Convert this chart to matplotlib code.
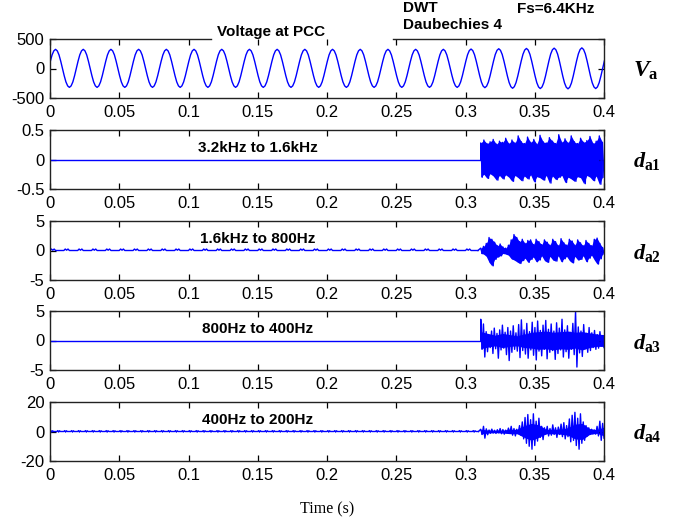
import numpy as np
import matplotlib
matplotlib.use('Agg')
import matplotlib.pyplot as plt

plt.rcParams['font.family'] = ['Liberation Sans', 'DejaVu Sans']
plt.rcParams['axes.unicode_minus'] = False
plt.rcParams['mathtext.fontset'] = 'custom'
plt.rcParams['mathtext.it'] = 'Liberation Serif:italic:bold'
plt.rcParams['mathtext.rm'] = 'Liberation Serif:bold'
plt.rcParams['mathtext.bf'] = 'Liberation Serif:bold'

## ---- data ----
# voltage at PCC: one normalised cycle, and peak values per cycle (+ / -)
va_cycle = [0, 0.38, 0.71, 0.92, 1.0, 0.92, 0.71, 0.38,
            0, -0.38, -0.71, -0.92, -1.0, -0.92, -0.71, -0.38]
va_pos_peak = [325, 325, 325, 325, 325, 325, 325, 325, 325, 325,
               325, 325, 325, 325, 325, 330, 335, 340, 345, 350, 330]
va_neg_peak = [320, 320, 320, 320, 320, 320, 320, 320, 320, 320,
               320, 320, 320, 320, 320, 325, 335, 340, 345, 340, 320]
va_t0 = -0.001       # first rising zero crossing
va_period = 0.02     # 50 Hz

event_t = 0.311

# detail da1 (3.2kHz-1.6kHz), burst after the event, alternating extremes
da1_burst = [0.28, -0.30, 0.33, -0.25, 0.27, -0.32, 0.30, -0.24, 0.34, -0.28,
             0.26, -0.35, 0.31, -0.27, 0.29, -0.33, 0.36, -0.26, 0.27, -0.30,
             0.33, -0.37, 0.28, -0.27, 0.40, -0.31, 0.30, -0.36, 0.27, -0.28,
             0.38, -0.33, 0.29, -0.26, 0.34, -0.38, 0.26, -0.29, 0.41, -0.31,
             0.30, -0.35, 0.28, -0.27, 0.37, -0.40, 0.31, -0.28, 0.27, -0.34,
             0.42, -0.30, 0.29, -0.27, 0.35, -0.39, 0.28, -0.30, 0.40, -0.33,
             0.30, -0.37, 0.27, -0.29, 0.36, -0.31, 0.29, -0.41, 0.32, -0.27,
             0.39, -0.30, 0.27, -0.36, 0.31, -0.28, 0.40, -0.42, 0.29, -0.30]

# detail da2 (1.6kHz-800Hz)
da2_ripple = [0, 0.25, 0.05, 0.25, 0, 0, 0, 0, 0, 0]   # small bump every 10 ms
da2_burst = [0.4, -0.5, 0.7, -0.6, 1.2, -1.0, 2.2, -2.0, 1.9, -2.6,
             1.4, -1.5, 0.8, -1.1, 1.1, -0.9, 0.6, -0.5, 0.4, -0.6,
             0.9, -0.8, 1.8, -1.4, 2.7, -1.6, 2.2, -1.9, 1.5, -2.2,
             1.9, -1.7, 1.2, -1.3, 1.7, -2.0, 1.8, -1.5, 1.0, -1.1,
             1.9, -1.9, 1.5, -1.6, 1.0, -0.9, 1.8, -1.7, 1.4, -2.0,
             0.9, -1.0, 1.9, -1.6, 1.5, -1.8, 0.8, -0.9, 2.0, -1.9,
             1.3, -1.4, 0.9, -1.0, 1.9, -1.7, 1.6, -2.1, 0.9, -1.0,
             1.8, -1.6, 1.3, -1.5, 0.8, -0.9, 1.7, -1.9, 1.2, -1.3,
             0.8, -0.8, 1.9, -1.6, 2.1, -2.3, 1.2, -1.4, 0.5, -0.6]

# detail da3 (800Hz-400Hz): spikes, plus the solid core band
da3_burst = [3.6, -1.5, 2.8, -2.8, 1.5, -1.9, 0.9, -1.2, 1.6, -2.2,
             2.1, -1.4, 1.2, -3.0, 1.8, -1.6, 2.6, -1.3, 1.4, -2.4,
             2.2, -3.4, 1.6, -2.0, 2.5, -1.5, 1.3, -1.8, 2.7, -2.9,
             3.5, -1.7, 1.8, -2.3, 2.9, -3.0, 1.5, -1.6, 3.1, -2.5,
             2.2, -3.3, 3.3, -1.8, 1.7, -2.6, 2.6, -1.5, 3.4, -3.1,
             1.9, -2.0, 2.8, -1.7, 1.6, -3.2, 3.0, -2.2, 2.1, -1.6,
             3.6, -2.8, 1.8, -1.9, 2.5, -3.0, 1.4, -1.5, 2.9, -2.4,
             5.0, -4.5, 2.3, -2.1, 1.6, -2.7, 2.7, -1.4, 1.2, -2.0,
             2.2, -1.7, 1.3, -1.2, 1.7, -1.5, 1.0, -1.3, 1.5, -0.9,
             0.8, -1.2]
da3_core_up = [1.5, 1.2, 0.9, 1.2, 1.0, 0.8, 1.1, 1.4, 1.5, 1.6, 1.4, 1.5,
               1.6, 1.4, 1.5, 1.3, 1.1, 1.0]
da3_core_lo = [-1.4, -1.1, -0.9, -1.2, -1.0, -0.9, -1.2, -1.3, -1.5, -1.4, -1.6, -1.4,
               -1.5, -1.3, -1.6, -1.2, -1.0, -1.0]

# detail da4 (400Hz-200Hz)
da4_ripple = [0, 0.6, -0.4, 0.5, 0, 0, 0, 0]           # small wiggle every 5 ms
da4_burst = [1.5, -2.0, 3.5, -4.5, 1.8, -2.2, 1.0, -1.2, 1.6, -1.0,
             0.8, -1.3, 1.2, -0.9, 2.0, -1.5, 1.3, -1.8, 0.9, -1.0,
             2.3, -1.2, 3.5, -2.5, 2.0, -3.0, 1.5, -1.5, 4.0, -2.5,
             6.5, -5.0, 9.5, -8.0, 11.5, -10.0, 8.0, -12.0, 12.0, -9.5,
             7.0, -6.5, 9.0, -4.0, 3.5, -5.5, 2.5, -2.0, 3.5, -3.0,
             2.0, -2.5, 4.5, -2.0, 2.5, -4.0, 3.0, -2.0, 5.0, -3.5,
             6.0, -5.0, 4.0, -3.5, 8.5, -7.0, 11.0, -6.0, 13.0, -9.5,
             9.0, -12.0, 12.0, -8.0, 6.5, -6.0, 4.0, -3.0, 2.5, -2.0,
             1.5, -1.5, 1.0, -1.8, 3.5, -3.0, 7.0, -6.0, 5.5, -4.5]
da4_core_up = [1.5, 1.0, 0.8, 0.9, 1.5, 1.5, 4.0, 5.5, 4.5, 1.5, 1.5, 1.5,
               2.5, 5.0, 5.5, 2.0, 1.2, 3.0]
da4_core_lo = [-1.8, -1.0, -0.8, -1.0, -1.5, -1.5, -4.0, -6.0, -4.0, -1.5, -1.5, -1.8,
               -2.5, -5.0, -5.5, -2.0, -1.2, -3.0]

ylims = [500, 0.5, 5, 5, 20]
yticklabels = [['-500', '0', '500'], ['-0.5', '0', '0.5'], ['-5', '0', '5'],
               ['-5', '0', '5'], ['-20', '0', '20']]
xticks = [0, 0.05, 0.1, 0.15, 0.2, 0.25, 0.3, 0.35, 0.4]
xticklabels = ['0', '0.05', '0.1', '0.15', '0.2', '0.25', '0.3', '0.35', '0.4']
band_labels = ['', '3.2kHz to 1.6kHz', '1.6kHz to 800Hz', '800Hz to 400Hz', '400Hz to 200Hz']
side_labels = [r'$V_{\mathrm{a}}$', r'$d_{\mathrm{a1}}$', r'$d_{\mathrm{a2}}$',
               r'$d_{\mathrm{a3}}$', r'$d_{\mathrm{a4}}$']

BLUE = '#0000ff'

## ---- build the voltage trace ----
ncyc = len(va_pos_peak)
va_t = va_t0 + np.arange(ncyc * len(va_cycle)) * va_period / len(va_cycle)
va_y = []
for c in range(ncyc):
    for v in va_cycle:
        va_y.append(v * (va_pos_peak[c] if v > 0 else va_neg_peak[c]))
va_y = np.array(va_y)


def draw_detail(ax, burst, ripple=None, step=0.01, core=None):
    """ flat/rippled trace up to the event, then the burst
    core=None fills the whole envelope, else fills the given core band """
    if ripple is None:
        t_pre = np.array([0, event_t])
        y_pre = np.zeros(2)
    else:
        n = int(round(event_t / step))
        t_pre = np.concatenate([k * step + np.arange(len(ripple)) * step / len(ripple)
                                for k in range(n)])
        y_pre = np.tile(ripple, n)
    ax.plot(t_pre, y_pre, color=BLUE, lw=1.0)
    burst = np.array(burst)
    t_b = np.linspace(event_t, 0.4, len(burst))
    if core is None:
        ax.fill_between(t_b[0::2], burst[0::2], burst[1::2], color=BLUE, lw=0)
    else:
        t_c = np.linspace(event_t, 0.4, len(core[0]))
        ax.fill_between(t_c, core[0], core[1], color=BLUE, lw=0)
    ax.plot(np.concatenate([[t_pre[-1]], t_b]), np.concatenate([[0], burst]),
            color=BLUE, lw=1.0)


## ---- figure ----
W, H = 675, 527
fig = plt.figure(figsize=(W / 100, H / 100), dpi=100)
tops = [39, 130, 221, 311, 402]
ph = 59
left, width = 50, 554

details = [None,
           dict(burst=da1_burst),
           dict(burst=da2_burst, ripple=da2_ripple, step=0.01),
           dict(burst=da3_burst, core=(da3_core_up, da3_core_lo)),
           dict(burst=da4_burst, ripple=da4_ripple, step=0.005,
                core=(da4_core_up, da4_core_lo))]

for i in range(5):
    ax = fig.add_axes([left / W, 1 - (tops[i] + ph) / H, width / W, ph / H])
    if i == 0:
        ax.plot(va_t, va_y, color=BLUE, lw=1.0)
    else:
        draw_detail(ax, **details[i])
    ax.set_xlim(0, 0.4)
    ax.set_ylim(-ylims[i], ylims[i])
    ax.set_xticks(xticks)
    ax.set_xticklabels(xticklabels)
    ax.set_yticks([-ylims[i], 0, ylims[i]])
    ax.set_yticklabels(yticklabels[i])
    ax.tick_params(direction='in', top=True, right=True, length=4, width=0.9,
                   labelsize=12, pad=4)
    ax.tick_params(axis='x', pad=5)
    for s in ax.spines.values():
        s.set_linewidth(1.0)
        s.set_color('#222222')
    if band_labels[i]:
        ax.text(0.375, 0.70, band_labels[i], transform=ax.transAxes, ha='center',
                va='center', fontsize=11, fontweight='bold')
    fig.text(633 / W, 1 - (tops[i] + ph / 2 + 2) / H, side_labels[i],
             fontsize=17 if i == 0 else 16, ha='left', va='center')
    if i == 0:
        # top border is broken under the title text
        ax.spines['top'].set_visible(False)
        ax.plot([0, 0.116], [500, 500], color='#222222', lw=1.0, clip_on=False)
        ax.plot([0.248, 0.4], [500, 500], color='#222222', lw=1.0, clip_on=False)

fig.text(271 / W, 1 - 32 / H, 'Voltage at PCC', ha='center', va='center',
         fontsize=11, fontweight='bold')
fig.text(403 / W, 1 - 8 / H, 'DWT', ha='left', va='center',
         fontsize=11, fontweight='bold')
fig.text(403 / W, 1 - 25 / H, 'Daubechies 4', ha='left', va='center',
         fontsize=11, fontweight='bold')
fig.text(517 / W, 1 - 9 / H, 'Fs=6.4KHz', ha='left', va='center',
         fontsize=11, fontweight='bold')
fig.text(327 / W, 1 - 509 / H, 'Time (s)', ha='center', va='center',
         fontsize=11.5, family='Liberation Serif')

fig.savefig('out.png', dpi=100)
